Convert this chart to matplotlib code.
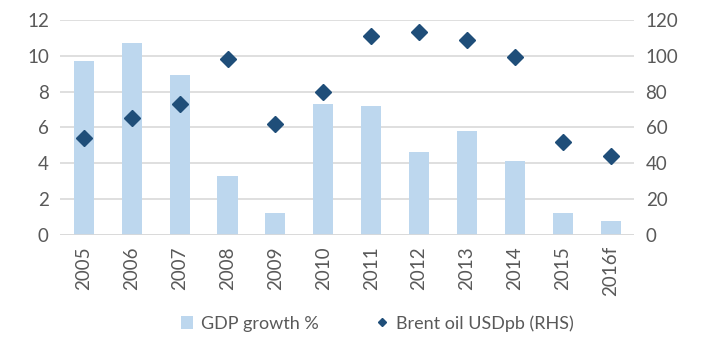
import matplotlib.pyplot as plt
import numpy as np

years = ["2005", "2006", "2007", "2008", "2009", "2010",
         "2011", "2012", "2013", "2014", "2015", "2016f"]
gdp_growth = [9.7, 10.7, 8.9, 3.3, 1.2, 7.3, 7.2, 4.6, 5.8, 4.1, 1.2, 0.8]
brent_oil = [54, 65, 73, 98, 62, 80, 111, 113, 109, 99, 52, 44]

plt.rcParams['font.family'] = ['Lato', 'DejaVu Sans']
text_col = "#595959"
bar_col = "#bdd7ee"
dot_col = "#1f4e79"
grid_col = "#d9d9d9"

fig = plt.figure(figsize=(7.05, 3.48), dpi=100)
ax = fig.add_axes([0.085, 0.325, 0.815, 0.618])
x = np.arange(len(years))

ax.bar(x, gdp_growth, width=0.42, color=bar_col, label="GDP growth %", zorder=2)
ax.set_ylim(0, 12)
ax.set_yticks(range(0, 13, 2))
ax.set_xlim(-0.5, len(years) - 0.5)
ax.set_xticks(x)
ax.set_xticklabels(years, rotation=90)

ax2 = ax.twinx()
ax2.plot(x, brent_oil, linestyle="none", marker="D", markersize=8.5,
         color=dot_col, label="Brent oil USDpb (RHS)", zorder=3)
ax2.set_ylim(0, 120)
ax2.set_yticks(range(0, 121, 20))

ax.grid(axis="y", color=grid_col, linewidth=1.2, zorder=0)
ax.axhline(0, color=grid_col, linewidth=1.2, zorder=3)
for a in (ax, ax2):
    for s in a.spines.values():
        s.set_visible(False)
    a.tick_params(length=0, labelsize=13.5, colors=text_col, pad=8)

h1, l1 = ax.get_legend_handles_labels()
h2, l2 = ax2.get_legend_handles_labels()
leg = fig.legend(h1 + h2, l1 + l2, loc="lower center", bbox_to_anchor=(0.535, 0.0),
                 ncol=2, frameon=False, fontsize=13, columnspacing=3.2,
                 handlelength=0.7, handletextpad=0.4, markerscale=0.5)
for t in leg.get_texts():
    t.set_color(text_col)

fig.savefig("out.png", dpi=100)
